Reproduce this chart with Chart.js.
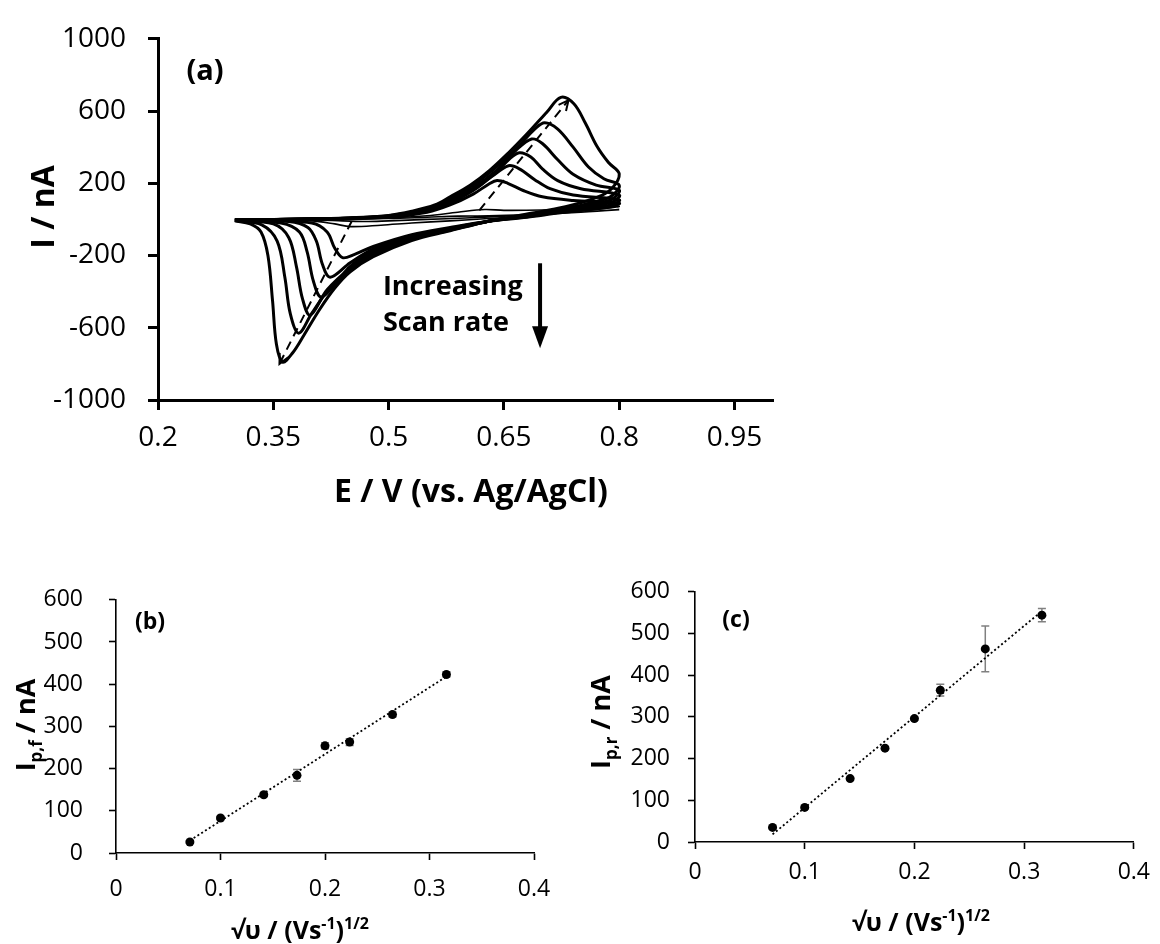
<!DOCTYPE html>
<html>
<head>
<meta charset="utf-8">
<script src="https://cdn.jsdelivr.net/npm/chart.js@4.4.1/dist/chart.umd.min.js"></script>
<style>
  html, body { margin: 0; padding: 0; background: #fff; }
  body { width: 1160px; height: 944px; position: relative; overflow: hidden; }
  .panel { position: absolute; }
  #panelA { left: 0; top: 0; width: 800px; height: 520px; }
  #panelB { left: 0; top: 560px; width: 570px; height: 384px; }
  #panelC { left: 570px; top: 560px; width: 590px; height: 384px; }
</style>
</head>
<body>
<div class="panel" id="panelA"><canvas id="chartA"></canvas></div>
<div class="panel" id="panelB"><canvas id="chartB"></canvas></div>
<div class="panel" id="panelC"><canvas id="chartC"></canvas></div>
<script>
// ---- (a) cyclic voltammograms: [E / V, I / nA], forward sweep then reverse sweep ----
const cv1 = [[0.30,-1],[0.40,0],[0.50,5],[0.55,12],[0.59,18],[0.63,20],[0.70,30],[0.75,40],[0.80,54],
  [0.75,40],[0.70,28],[0.65,18],[0.60,8],[0.55,0],[0.50,-8],[0.47,-12],[0.44,-8],[0.40,-3],[0.30,-1]];
const cv2 = [[0.30,-1],[0.40,1],[0.50,8],[0.55,20],[0.59,40],[0.625,55],[0.65,50],[0.70,52],[0.75,60],[0.80,72],
  [0.76,50],[0.72,35],[0.68,18],[0.63,5],[0.58,-8],[0.53,-20],[0.49,-32],[0.45,-40],[0.43,-25],[0.40,-8],[0.30,-1]];
const cv3 = [[0.30,-2],[0.40,2],[0.50,12],[0.55,40],[0.58,80],[0.61,140],[0.63,195],[0.641,216],[0.655,200],[0.675,160],[0.70,125],[0.74,105],[0.80,90],
  [0.79,70],[0.76,55],[0.72,35],[0.68,12],[0.63,-10],[0.58,-45],[0.53,-85],[0.48,-150],[0.455,-195],[0.44,-212],[0.43,-160],[0.42,-70],[0.40,-20],[0.30,-2]];
const cv4 = [[0.30,-2],[0.40,2],[0.50,14],[0.55,45],[0.58,90],[0.61,160],[0.635,240],[0.656,297],[0.67,280],[0.69,220],[0.71,170],[0.74,135],[0.80,108],
  [0.79,80],[0.76,65],[0.72,40],[0.68,15],[0.63,-10],[0.58,-50],[0.53,-95],[0.48,-165],[0.45,-240],[0.424,-320],[0.414,-250],[0.406,-120],[0.395,-45],[0.37,-12],[0.30,-3]];
const cv5 = [[0.30,-3],[0.40,2],[0.50,16],[0.55,50],[0.58,100],[0.61,165],[0.64,260],[0.656,330],[0.67,369],[0.685,345],[0.70,280],[0.72,215],[0.75,170],[0.80,135],
  [0.79,95],[0.76,75],[0.72,45],[0.68,18],[0.63,-10],[0.58,-55],[0.53,-100],[0.48,-175],[0.45,-260],[0.43,-360],[0.412,-430],[0.402,-340],[0.394,-180],[0.384,-70],[0.36,-20],[0.30,-4]];
const cv6 = [[0.30,-3],[0.40,3],[0.50,18],[0.55,55],[0.58,105],[0.61,175],[0.64,270],[0.665,380],[0.686,445],[0.70,420],[0.72,330],[0.74,250],[0.77,190],[0.80,162],
  [0.79,110],[0.77,90],[0.73,55],[0.68,20],[0.63,-10],[0.58,-58],[0.53,-105],[0.48,-185],[0.45,-270],[0.42,-390],[0.398,-530],[0.388,-440],[0.38,-260],[0.37,-100],[0.35,-25],[0.30,-5]];
const cv7 = [[0.30,-4],[0.40,3],[0.50,20],[0.55,60],[0.58,115],[0.61,190],[0.64,290],[0.67,410],[0.69,500],[0.703,535],[0.72,500],[0.74,400],[0.76,290],[0.78,225],[0.80,189],
  [0.79,130],[0.77,100],[0.73,60],[0.68,25],[0.63,-10],[0.58,-60],[0.53,-110],[0.48,-195],[0.45,-280],[0.42,-400],[0.40,-520],[0.383,-630],[0.372,-520],[0.365,-320],[0.355,-120],[0.335,-30],[0.30,-6]];
const cv8 = [[0.30,-5],[0.35,0],[0.40,3],[0.45,8],[0.50,22],[0.53,45],[0.56,80],[0.58,125],[0.606,189],[0.631,270],[0.656,369],[0.681,478],[0.706,595],[0.724,676],[0.741,640],[0.756,532],[0.771,405],[0.786,315],[0.80,252],
  [0.79,170],[0.77,120],[0.73,70],[0.68,30],[0.63,-10],[0.58,-63],[0.53,-117],[0.48,-207],[0.45,-290],[0.43,-380],[0.41,-500],[0.39,-640],[0.375,-740],[0.362,-790],[0.354,-690],[0.349,-450],[0.343,-200],[0.334,-70],[0.32,-25],[0.30,-8]];
const cvScans = [cv1, cv2, cv3, cv4, cv5, cv6, cv7, cv8];

// dashed guides following the peak shift
const anodicShift = [[0.618, 50], [0.734, 660]];
const cathodicShift = [[0.452, -10], [0.358, -800]];

const cvXTicks = [0.2, 0.35, 0.5, 0.65, 0.8, 0.95];
const cvYTicks = [-1000, -600, -200, 200, 600, 1000];

// ---- (b), (c) peak currents against square root of scan rate ----
const sqrtScanRate = [0.0707, 0.1, 0.1414, 0.1732, 0.2, 0.2236, 0.2646, 0.3162];
const ipForward = [26, 83, 138, 184, 254, 263, 328, 423];
const ipForwardErr = [3, 4, 4, 14, 7, 8, 6, 6];
const ipReverse = [35, 83, 152, 225, 296, 364, 463, 544];
const ipReverseErr = [3, 3, 3, 3, 4, 14, 55, 16];

const peakXTicks = [0, 0.1, 0.2, 0.3, 0.4];
const peakYTicks = [0, 100, 200, 300, 400, 500, 600];

const FONT = "'Open Sans', sans-serif";
Chart.defaults.font.family = FONT;
Chart.defaults.color = '#000';
Chart.defaults.animation = false;

function pts(pairs) {
  return pairs.map(([x, y]) => ({ x: x, y: y }));
}

function linearFit(xs, ys) {
  const n = xs.length;
  const mx = xs.reduce((a, b) => a + b, 0) / n;
  const my = ys.reduce((a, b) => a + b, 0) / n;
  let sxy = 0, sxx = 0;
  for (let i = 0; i < n; i++) {
    sxy += (xs[i] - mx) * (ys[i] - my);
    sxx += (xs[i] - mx) * (xs[i] - mx);
  }
  const slope = sxy / sxx;
  const icpt = my - slope * mx;
  return [xs[0], xs[n - 1]].map(x => ({ x: x, y: icpt + slope * x }));
}

// draw a line of text made of runs (sub/superscripts), centred on cx, cy
function drawRuns(ctx, runs, cx, cy, rotate) {
  ctx.save();
  ctx.translate(cx, cy);
  if (rotate) ctx.rotate(-Math.PI / 2);
  ctx.fillStyle = '#000';
  ctx.textBaseline = 'alphabetic';
  ctx.textAlign = 'left';
  let total = 0;
  runs.forEach(r => {
    ctx.font = (r.weight || 'bold') + ' ' + r.size + 'px ' + FONT;
    r.w = ctx.measureText(r.t).width;
    total += r.w;
  });
  const base = runs[0].size * 0.36;
  let x = -total / 2;
  runs.forEach(r => {
    ctx.font = (r.weight || 'bold') + ' ' + r.size + 'px ' + FONT;
    ctx.fillText(r.t, x, base - (r.rise || 0));
    x += r.w;
  });
  ctx.restore();
}

function axisOptions(o) {
  return {
    type: 'linear',
    min: o.min,
    max: o.max,
    afterFit: scale => {
      if (o.width !== undefined) scale.width = o.width;
      if (o.height !== undefined) scale.height = o.height;
    },
    afterBuildTicks: scale => { scale.ticks = o.ticks.map(v => ({ value: v })); },
    grid: { display: true, drawOnChartArea: false, drawTicks: true, tickLength: o.tickLength, tickWidth: o.lineWidth, tickColor: '#000' },
    border: { display: true, color: '#000', width: o.lineWidth },
    ticks: { padding: o.padding, font: { size: o.fontSize }, color: '#000', callback: v => String(v) }
  };
}

// ---- chart (a) ----
const cvLabels = {
  id: 'cvLabels',
  afterDraw(chart) {
    const { ctx, scales: { x, y } } = chart;
    drawRuns(ctx, [{ t: 'I / nA', size: 32 }], 42, 207, true);
    drawRuns(ctx, [{ t: 'E / V (vs. Ag/AgCl)', size: 32 }], 471, 490, false);
    drawRuns(ctx, [{ t: '(a)', size: 29 }], 205, 70, false);

    // scan-rate note with arrow
    ctx.save();
    ctx.fillStyle = '#000';
    ctx.font = 'bold 27px ' + FONT;
    ctx.textAlign = 'left';
    ctx.textBaseline = 'middle';
    ctx.fillText('Increasing', x.getPixelForValue(0.4926), y.getPixelForValue(-378));
    ctx.fillText('Scan rate', x.getPixelForValue(0.4926), y.getPixelForValue(-573));
    const ax = x.getPixelForValue(0.697);
    const top = y.getPixelForValue(-243);
    const tip = y.getPixelForValue(-713);
    ctx.strokeStyle = '#000';
    ctx.lineWidth = 4;
    ctx.beginPath();
    ctx.moveTo(ax, top);
    ctx.lineTo(ax, tip - 20);
    ctx.stroke();
    ctx.beginPath();
    ctx.moveTo(ax - 8, tip - 22);
    ctx.lineTo(ax + 8, tip - 22);
    ctx.lineTo(ax, tip);
    ctx.closePath();
    ctx.fill();

    // arrow heads on the dashed peak guides
    [anodicShift, cathodicShift].forEach(seg => {
      const x0 = x.getPixelForValue(seg[0][0]), y0 = y.getPixelForValue(seg[0][1]);
      const x1 = x.getPixelForValue(seg[1][0]), y1 = y.getPixelForValue(seg[1][1]);
      const ang = Math.atan2(y1 - y0, x1 - x0);
      ctx.lineWidth = 2;
      ctx.beginPath();
      ctx.moveTo(x1 - 11 * Math.cos(ang - 0.45), y1 - 11 * Math.sin(ang - 0.45));
      ctx.lineTo(x1, y1);
      ctx.lineTo(x1 - 11 * Math.cos(ang + 0.45), y1 - 11 * Math.sin(ang + 0.45));
      ctx.stroke();
    });
    ctx.restore();
  }
};

const cvDatasets = cvScans.map((scan, i) => ({
  data: pts(scan),
  showLine: true,
  borderColor: '#000',
  borderWidth: i < 2 ? 1.6 : 3,
  pointRadius: 0,
  tension: 0.35,
  fill: false
}));
[anodicShift, cathodicShift].forEach(seg => cvDatasets.push({
  data: pts(seg),
  showLine: true,
  borderColor: '#000',
  borderWidth: 2,
  borderDash: [9, 6],
  pointRadius: 0,
  tension: 0
}));

new Chart(document.getElementById('chartA'), {
  type: 'scatter',
  data: { datasets: cvDatasets },
  options: {
    responsive: true,
    maintainAspectRatio: false,
    layout: { padding: { left: 0, top: 30, right: 27, bottom: 60 } },
    plugins: { legend: { display: false }, tooltip: { enabled: false } },
    scales: {
      x: axisOptions({ min: 0.2, max: 1.0, ticks: cvXTicks, height: 60, tickLength: 10, lineWidth: 3, padding: 11, fontSize: 28 }),
      y: axisOptions({ min: -1000, max: 1000, ticks: cvYTicks, width: 158, tickLength: 10, lineWidth: 3, padding: 22, fontSize: 28 })
    }
  },
  plugins: [cvLabels]
});

// ---- charts (b) and (c) ----
const errorBars = {
  id: 'errorBars',
  beforeDatasetsDraw(chart, args, opts) {
    const { ctx, scales: { x, y } } = chart;
    ctx.save();
    ctx.strokeStyle = '#808080';
    ctx.lineWidth = 1.5;
    opts.values.forEach((v, i) => {
      const px = x.getPixelForValue(opts.xs[i]);
      const lo = y.getPixelForValue(v - opts.errs[i]);
      const hi = y.getPixelForValue(v + opts.errs[i]);
      ctx.beginPath();
      ctx.moveTo(px, lo); ctx.lineTo(px, hi);
      ctx.moveTo(px - 4, lo); ctx.lineTo(px + 4, lo);
      ctx.moveTo(px - 4, hi); ctx.lineTo(px + 4, hi);
      ctx.stroke();
    });
    ctx.restore();
  }
};

const peakLabels = {
  id: 'peakLabels',
  afterDraw(chart, args, opts) {
    const ctx = chart.ctx;
    drawRuns(ctx, [{ t: 'I', size: 27 }, { t: opts.sub, size: 17, rise: -7 }, { t: ' / nA', size: 27 }], opts.yTitle[0], opts.yTitle[1], true);
    drawRuns(ctx, [{ t: '\u221A\u03C5 / (Vs', size: 25 }, { t: '-1', size: 16, rise: 10 }, { t: ')', size: 25 }, { t: '1/2', size: 16, rise: 10 }], opts.xTitle[0], opts.xTitle[1], false);
    drawRuns(ctx, [{ t: opts.tag, size: 23 }], opts.tagPos[0], opts.tagPos[1], false);
  }
};

function peakChart(id, values, errs, o) {
  const xy = sqrtScanRate.map((s, i) => ({ x: s, y: values[i] }));
  return new Chart(document.getElementById(id), {
    type: 'scatter',
    data: {
      datasets: [
        { data: linearFit(sqrtScanRate, values), showLine: true, borderColor: '#000', borderWidth: 1.8, borderDash: [2, 2.5], pointRadius: 0 },
        { data: xy, pointRadius: 4.5, pointBackgroundColor: '#000', pointBorderWidth: 0 }
      ]
    },
    options: {
      responsive: true,
      maintainAspectRatio: false,
      layout: { padding: o.padding },
      plugins: {
        legend: { display: false },
        tooltip: { enabled: false },
        errorBars: { xs: sqrtScanRate, values: values, errs: errs },
        peakLabels: o.labels
      },
      scales: {
        x: axisOptions({ min: 0, max: 0.4, ticks: peakXTicks, height: 45, tickLength: 7, lineWidth: 1.6, padding: o.xPad, fontSize: 23 }),
        y: axisOptions({ min: 0, max: 600, ticks: peakYTicks, width: o.yWidth, tickLength: 7, lineWidth: 1.6, padding: o.yPad, fontSize: 23 })
      }
    },
    plugins: [errorBars, peakLabels]
  });
}

peakChart('chartB', ipForward, ipForwardErr, {
  padding: { left: 0, top: 30, right: 36, bottom: 46 },
  yWidth: 116, yPad: 26, xPad: 16,
  labels: { sub: 'p,f', tag: '(b)', yTitle: [25, 165], xTitle: [300, 370], tagPos: [150, 61] }
});

peakChart('chartC', ipReverse, ipReverseErr, {
  padding: { left: 0, top: 30, right: 17, bottom: 57 },
  yWidth: 125, yPad: 18, xPad: 10,
  labels: { sub: 'p,r', tag: '(c)', yTitle: [30, 162], xTitle: [351, 362], tagPos: [166, 59] }
});
</script>
</body>
</html>
